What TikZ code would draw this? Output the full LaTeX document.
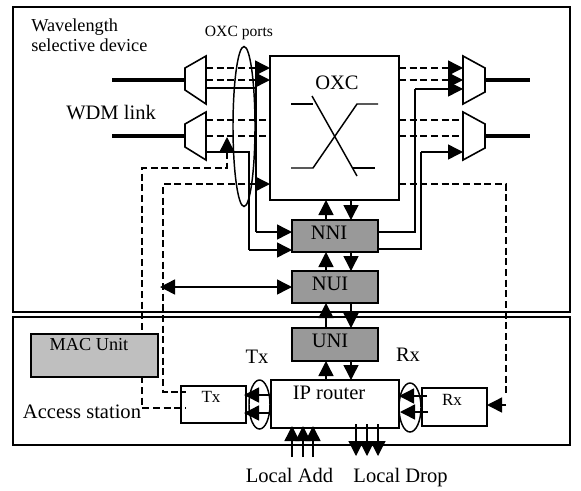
\documentclass[tikz,border=0pt]{standalone}
\usepackage{fontspec}
\setmainfont{Liberation Serif}
\usetikzlibrary{arrows.meta,shapes.geometric}
\newcommand{\fsz}[1]{\fontsize{#1}{#1}\selectfont}
\tikzset{
  wire/.style={line width=1.1pt,draw=black},
  dash line/.style={wire,dash pattern=on 5.2pt off 2.8pt},
  link/.style={line width=2.4pt,draw=black},
  tipped/.style={wire,-{Triangle[length=11.25pt,width=11.25pt]}},
  both tipped/.style={wire,{Triangle[length=11.25pt,width=11.25pt]}-{Triangle[length=11.25pt,width=11.25pt]}},
  panel/.style={draw=black,line width=1.2pt},
  box/.style={draw=black,line width=1.2pt,inner sep=0pt,outer sep=0pt,fill=white},
  grey box/.style={box,fill=black!40},
  mac box/.style={box,fill=black!25},
  oval/.style={ellipse,draw=black,line width=1.1pt,inner sep=0pt,outer sep=0pt},
  big/.style={inner sep=0pt,anchor=base,font=\fsz{15.4pt}},
  mid/.style={inner sep=0pt,anchor=base,font=\fsz{13.7pt}},
  small/.style={inner sep=0pt,anchor=base,font=\fsz{12.8pt}},
  tiny label/.style={inner sep=0pt,anchor=base,font=\fsz{11.7pt}},
  plex/.style={draw=black,line width=1.2pt,fill=white},
}
\begin{document}
\begin{tikzpicture}[x=0.75pt,y=-0.75pt]
\useasboundingbox (0,0) rectangle (581,490);
% panels
\node[panel,inner sep=0pt,outer sep=0pt,minimum width=417.75pt,minimum height=228.75pt] (upper) at (291.5,159.5) {};
\node[panel,inner sep=0pt,outer sep=0pt,minimum width=417.75pt,minimum height=96pt] (lower) at (291.5,380.7) {};
% guides
\coordinate (xu) at (326,0);
\coordinate (xd) at (351,0);
% multiplexers
\coordinate (d1a) at (185,68);\coordinate (d1b) at (206,56);\coordinate (d1c) at (206,104);\coordinate (d1d) at (185,90);
\coordinate (d2a) at (185,124);\coordinate (d2b) at (206,112);\coordinate (d2c) at (206,160);\coordinate (d2d) at (185,147);
\coordinate (m1a) at (463,56);\coordinate (m1b) at (485,68);\coordinate (m1c) at (485,92);\coordinate (m1d) at (463,104);
\coordinate (m2a) at (463,112);\coordinate (m2b) at (485,124);\coordinate (m2c) at (485,148);\coordinate (m2d) at (463,160);
% main boxes
\node[box,minimum width=96.75pt,minimum height=108pt] (oxc) at (334.5,128) {};
\node[grey box,minimum width=64.5pt,minimum height=24pt] (nni) at (335,236) {};
\node[grey box,minimum width=64.5pt,minimum height=24pt] (nui) at (335,287) {};
\node[grey box,minimum width=64.5pt,minimum height=24.75pt] (uni) at (335,344.5) {};
\node[box,minimum width=96pt,minimum height=36pt] (ip) at (335,404) {};
\node[box,minimum width=48.75pt,minimum height=27.75pt] (tx) at (213.5,404.5) {};
\node[box,minimum width=48.75pt,minimum height=28.5pt] (rx) at (454.5,407) {};
% dashed control lines
\coordinate (c1) at (142,168);\coordinate (c2) at (142,408);
\coordinate (c3) at (163,184);\coordinate (c4) at (163,392);
\coordinate (c5) at (506,184);\coordinate (c6) at (506,405);
\coordinate (c7) at (227,168);
\coordinate (c8) at (227,152);
\draw[dash line] (c8) -- (c7) -- (c1) -- (c2) -- (186,408);
\draw[dash line] (256,184) -- (c3) -- (c4) -- (186,392);
\draw[dash line] (oxc.east |- c5) -- (c5) -- (506,396);
\draw[dash line] (206,68) -- (257,68);
\draw[dash line] (206,80) -- (257,80);
\draw[dash line] (206,120) -- (oxc.west |- 0,120);
\draw[dash line] (206,136) -- (oxc.west |- 0,136);
\draw[dash line] (oxc.east |- 0,68) -- (449,68);
\draw[dash line] (oxc.east |- 0,80) -- (449,80);
\draw[dash line] (oxc.east |- 0,120) -- (463,120);
\draw[dash line] (oxc.east |- 0,136) -- (463,136);
% WDM links
\coordinate (l1) at (112,80);\coordinate (l2) at (112,136);
\coordinate (r1) at (530,80);\coordinate (r2) at (530,136);
\draw[link] (l1) -- (185,80);
\draw[link] (l2) -- (185,136);
\draw[link] (485,80) -- (r1);
\draw[link] (485,136) -- (r2);
\draw[plex] (d1a) -- (d1b) -- (d1c) -- (d1d) -- cycle;
\draw[plex] (d2a) -- (d2b) -- (d2c) -- (d2d) -- cycle;
\draw[plex] (m1a) -- (m1b) -- (m1c) -- (m1d) -- cycle;
\draw[plex] (m2a) -- (m2b) -- (m2c) -- (m2d) -- cycle;
% arrows into / out of OXC
\draw[tipped] (255,68) -- (oxc.west |- 0,68);
\draw[tipped] (255,80) -- (oxc.west |- 0,80);
\draw[tipped] (255,184) -- (oxc.west |- 0,184);
\draw[tipped] (447,68) -- (m1a |- 0,68);
\draw[tipped] (447,80) -- (m1a |- 0,80);
\draw[tipped] (415,89) -- (m1a |- 0,89);
\draw[tipped] (421,152) -- (m2a |- 0,152);
% demux drops to NNI
\coordinate (v1) at (256,88);
\coordinate (v2) at (256,232);
\coordinate (v3) at (249,152);
\coordinate (v4) at (249,250);
\draw[wire] (206,88) -- (v1) -- (v2);
\draw[tipped] (v2) -- (nni.west |- v2);
\draw[wire] (206,152) -- (v3) -- (v4);
\draw[tipped] (v4) -- (nni.west |- v4);
\draw[tipped] (c7 |- 0,152) -- (c7 |- 0,137);
% NNI to mux
\draw[wire] (nni.east |- 0,232) -- (415,232) -- (415,89);
\draw[wire] (nni.east |- 0,249) -- (421,249) -- (421,152);
% vertical stack
\draw[tipped] (xu |- nni.north) -- (xu |- oxc.south);
\draw[tipped] (xd |- oxc.south) -- (xd |- nni.north);
\draw[tipped] (xu |- nui.north) -- (xu |- nni.south);
\draw[tipped] (xd |- nni.south) -- (xd |- nui.north);
\draw[tipped] (xu |- uni.north) -- (xu |- nui.south);
\draw[tipped] (xd |- nui.south) -- (xd |- uni.north);
\draw[tipped] (xu |- ip.north) -- (xu |- uni.south);
\draw[tipped] (xd |- uni.south) -- (xd |- ip.north);
% NUI double arrow
\coordinate (n1) at (160,287);
\draw[both tipped] (n1) -- (nui.west |- n1);
% Rx feed
\draw[tipped] (c6) -- (rx.east |- c6);
% Tx / Rx arrows
\draw[tipped] (ip.west |- 0,395) -- (244,395);
\draw[tipped] (ip.west |- 0,413) -- (244,413);
\draw[tipped] (427,396) -- (399,396);
\draw[tipped] (428,412) -- (400,412);
% local add / drop
\draw[tipped] (292,457) -- (292,426);
\draw[tipped] (303,457) -- (303,426);
\draw[tipped] (313,457) -- (313,426);
\draw[tipped] (356,424) -- (356,456);
\draw[tipped] (367,424) -- (367,456);
\draw[tipped] (378,424) -- (378,456);
% MAC
\node[mac box,minimum width=95.25pt,minimum height=32.25pt] (mac) at (94.5,355.5) {};
% ovals
\node[oval,minimum width=16.5pt,minimum height=120pt] (ports) at (244,126.5) {};
\node[oval,minimum width=15.75pt,minimum height=36.75pt] (txoval) at (259.5,404.5) {};
\node[oval,minimum width=16.5pt,minimum height=36.75pt] (rxoval) at (410,407.5) {};
% cross
\draw[wire] (291,104) -- (313,104);
\draw[wire] (312,96) -- (357,176);
\draw[wire] (353,168) -- (375,168);
\draw[wire] (291,168) -- (313,168) -- (357,104) -- (378,104);
% labels
\node[big] (toxc) at (337,89) {OXC};
\node[big] (tnni) at (329,239) {NNI};
\node[big] (tnui) at (330,290) {NUI};
\node[big] (tuni) at (330,347) {UNI};
\node[big] (tip) at (329,399) {IP router};
\node[mid] (tmac) at (89,350) {MAC Unit};
\node[small] (ttxs) at (211,402) {Tx};
\node[small] (trxs) at (452,405) {Rx};
\node[big] (ttx) at (257,363) {Tx};
\node[big] (trx) at (408,361) {Rx};
\node[big] (tacc) at (82,418) {Access station};
\node[big] (tadd) at (289.5,482) {Local Add};
\node[big] (tdrop) at (400.5,482) {Local Drop};
\node[mid,anchor=base west] (twave) at (31,31) {Wavelength};
\node[mid,anchor=base west] (tsel) at (31,51) {selective device};
\node[big,anchor=base west] (twdm) at (66,119) {WDM link};
\node[tiny label] (tports) at (239,36) {OXC ports};
\end{tikzpicture}
\end{document}
